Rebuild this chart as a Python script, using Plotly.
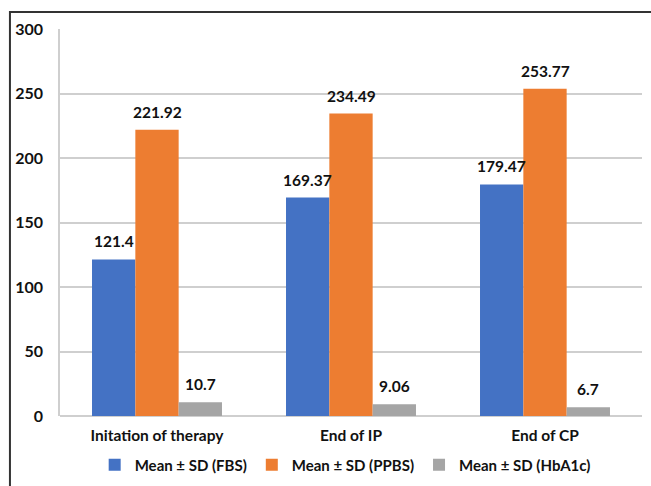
import plotly.graph_objects as go

categories = ["Initation of therapy", "End of IP", "End of CP"]
fbs = [121.4, 169.37, 179.47]
ppbs = [221.92, 234.49, 253.77]
hba1c = [10.7, 9.06, 6.7]
series_names = ["Mean ± SD (FBS)", "Mean ± SD (PPBS)", "Mean ± SD (HbA1c)"]
colors = ["#4472C4", "#ED7D31", "#A5A5A5"]
y_ticks = [0, 50, 100, 150, 200, 250, 300]

FONT = "Lato, 'Open Sans', sans-serif"
W, H = 651, 486
ML, MR, MT, MB = 60, 9, 29, 70
BARGAP = 0.33

fig = go.Figure()
all_series = [fbs, ppbs, hba1c]
for name, vals, col in zip(series_names, all_series, colors):
    fig.add_trace(go.Bar(
        x=categories, y=vals, name=f"<b>{name}</b>", marker_color=col,
        marker_line_width=0,
    ))

# value labels above bars, offset within each group
plot_w = W - ML - MR
cat_w = plot_w / len(categories)
bar_w = cat_w * (1 - BARGAP) / len(all_series)
annotations = []
for i, vals in enumerate(all_series):
    for c, v in zip(categories, vals):
        annotations.append(dict(
            x=c, y=v, xref="x", yref="y", text=f"<b>{v}</b>", showarrow=False,
            xshift=(i - 1) * bar_w, yshift=7, yanchor="bottom",
            font=dict(family=FONT, size=15.5, color="#111111"),
        ))

fig.update_layout(
    width=W, height=H,
    margin=dict(l=ML, r=MR, t=MT, b=MB, autoexpand=False),
    paper_bgcolor="white", plot_bgcolor="white",
    barmode="group", bargap=BARGAP, bargroupgap=0,
    font=dict(family=FONT, size=14, color="#111111"),
    showlegend=True,
    legend=dict(orientation="h", x=0.49, xanchor="center", yref="container",
                y=0.043, yanchor="middle",
                font=dict(family=FONT, size=15, color="#111111"),
                itemwidth=30, traceorder="normal"),
    xaxis=dict(showgrid=False, showline=False, ticks="", automargin=False,
               ticklabelstandoff=8,
               tickfont=dict(family=FONT, size=15.5, color="#111111"),
               tickvals=categories, ticktext=[f"<b>{c}</b>" for c in categories]),
    yaxis=dict(range=[0, 300], tickvals=y_ticks, automargin=False,
               ticktext=[f"<b>{t}</b>" for t in y_ticks],
               showgrid=True, gridcolor="#CFCFCF", gridwidth=1.5,
               showline=True, linecolor="#CFCFCF", linewidth=1.5,
               zeroline=True, zerolinecolor="#CFCFCF", zerolinewidth=1.5,
               ticks="", ticklabelstandoff=12,
               tickfont=dict(family=FONT, size=16, color="#111111")),
    annotations=annotations,
    shapes=[dict(type="rect", xref="paper", yref="paper",
                 x0=-0.086, x1=1.2, y0=-0.5, y1=1.044,
                 line=dict(color="#333333", width=2), fillcolor="rgba(0,0,0,0)")],
)

fig.write_html("out.html", config={"displayModeBar": False},
               post_script="document.body.style.margin='0';")
